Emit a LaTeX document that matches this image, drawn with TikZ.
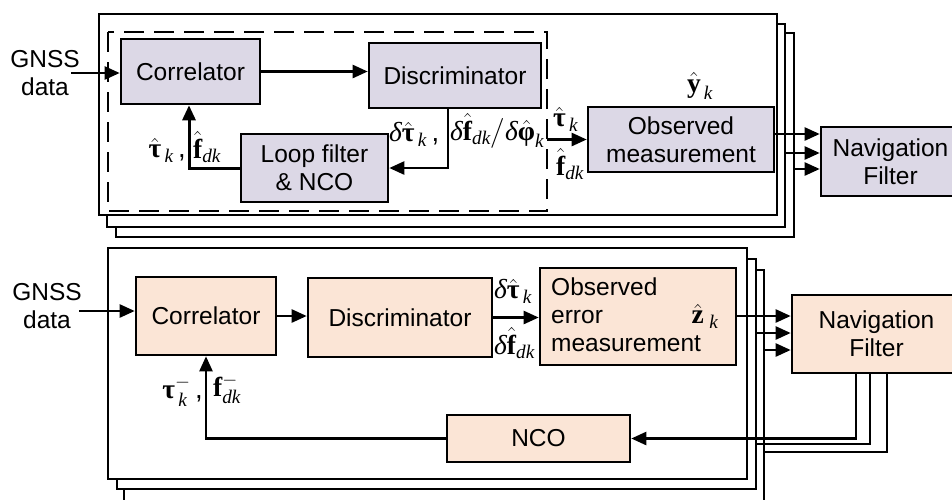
\documentclass[tikz,border=0pt]{standalone}
\usepackage{fix-cm}
\usepackage{amsmath}
\usepackage{fontspec}
\setmainfont{Liberation Sans}
\newfontfamily\tms{Liberation Serif}
\usetikzlibrary{arrows.meta}
\definecolor{lav}{HTML}{DCD8E6}
\definecolor{peach}{HTML}{FBE5D6}
% serif symbols for the signal labels
\newcommand\bv[1]{\text{\tms\bfseries #1}}
\newcommand\iv[1]{\text{\tms\itshape #1}}
\newcommand\hv[1]{\hat{\bv{#1}}}
\tikzset{
  txt/.style={font=\fontsize{24.5}{30}\selectfont, inner sep=0pt},
  lbl/.style={font=\fontsize{27.5}{32}\selectfont, inner sep=0pt},
  pbox/.style={txt, draw, line width=2.6pt, fill=lav, align=center},
  obox/.style={txt, draw, line width=2.6pt, fill=peach, align=center},
  frame/.style={draw, line width=2.2pt, fill=white},
  wire/.style={line width=2.4pt},
  conn/.style={wire, -{Triangle[length=15pt,width=13pt]}},
}
\begin{document}
\begin{tikzpicture}[x=1pt,y=-1pt]
\useasboundingbox (0,0) rectangle (952,499);

% ---------- upper channel: stacked frames ----------
\draw[frame] (116,33) rectangle (794,237);
\draw[frame] (107,24) rectangle (785,227);
\draw[frame] (99,14) rectangle (777,215);
\draw[line width=2.2pt, dash pattern=on 20pt off 10pt] (108,32) rectangle (547,211);

\node[pbox, minimum width=139, minimum height=65] (cor1) at (190.5,71.5) {Correlator};
\node[pbox, minimum width=172, minimum height=65] (dis1) at (455,75.5) {Discriminator};
\node[pbox, minimum width=147, minimum height=68] (loop) at (314.5,168) {Loop filter\\[-2pt]\& NCO};
\node[pbox, minimum width=186, minimum height=65] (obs1) at (681,139.5) {Observed\\[-2pt]measurement};
\node[pbox, minimum width=139, minimum height=69] (nav1) at (890.5,161.5) {Navigation\\[-2pt]Filter};

\node[txt, align=center] (gnss1) at (45,73) {GNSS\\[-2pt]data};
\coordinate (in1) at (71,73);
\draw[conn] (in1) -- (in1 -| cor1.west);
\draw[conn] (cor1.east) -- (cor1.east -| dis1.west);
\draw[conn] ([xshift=-7pt]dis1.south) |- (loop.east);
\draw[wire, line width=3pt, -{Triangle[length=15pt,width=13pt]}] (loop.west) -| ([xshift=-1.5pt]cor1.south);
\coordinate (d1) at (547,139.5);
\draw[conn] (d1) -- (obs1.west);

\coordinate (a1) at (774,134);
\coordinate (a2) at (785,153);
\coordinate (a3) at (794,169);
\draw[conn] (a1) -- (a1 -| nav1.west);
\draw[conn] (a2) -- (a2 -| nav1.west);
\draw[conn] (a3) -- (a3 -| nav1.west);

\node[lbl, anchor=east] (l1) at (186,150) {$\hv{τ}_{\,\iv{k}}$\,,};
\node[lbl, anchor=west] (l2) at (193,147) {$\hv{f}_{\iv{dk}}$};
\node[lbl, anchor=west] (l3) at (389,134) {$\iv{δ}\hv{τ}_{\,\iv{k}}$\,,};
\node[lbl, anchor=west] (l4) at (450,132) {$\iv{δ}\hv{f}_{\iv{dk}}\big/\iv{δ}\hv{φ}_{\iv{k}}$};
\node[lbl, anchor=west] (l5) at (553,119) {$\hv{τ}_{\,\iv{k}}$};
\node[lbl, anchor=west] (l6) at (556,164) {$\hv{f}_{\iv{dk}}$};
\node[lbl] (l7) at (700,86) {$\hv{y}_{\,\iv{k}}$};

% ---------- lower channel: stacked frames ----------
\draw[frame] (124,270) rectangle (764,515);
\draw[frame] (117,259) rectangle (756,489);
\draw[frame] (108,248) rectangle (747,479);

\node[obox, minimum width=140, minimum height=78] (cor2) at (206,316) {Correlator};
\node[obox, minimum width=184, minimum height=79] (dis2) at (400,317.5) {Discriminator};
\node[obox, minimum width=196, minimum height=97] (obs2) at (638,316.5) {};
\node[txt, anchor=west, align=left] (obst) at (551,315) {Observed\\[-2pt]error\\[-2pt]measurement};
\node[obox, minimum width=169, minimum height=78] (nav2) at (876.5,334) {Navigation\\[-2pt]Filter};
\node[obox, minimum width=183, minimum height=47] (nco) at (538.5,438.5) {NCO};

\node[txt, align=center] (gnss2) at (47,306) {GNSS\\[-2pt]data};
\coordinate (in2) at (79,311);
\draw[conn] (in2) -- (in2 -| cor2.west);
\draw[conn] (cor2.east) -- (cor2.east -| dis2.west);
\draw[conn] (dis2.east) -- (dis2.east -| obs2.west);

\coordinate (b1) at (736,316);
\coordinate (b2) at (756,333);
\coordinate (b3) at (764,350);
\draw[conn] (b1) -- (b1 -| nav2.west);
\draw[conn] (b2) -- (b2 -| nav2.west);
\draw[conn] (b3) -- (b3 -| nav2.west);

\coordinate (c2) at (756,444);
\coordinate (c3) at (764,452);
\draw[conn] ([xshift=-20.5pt]nav2.south) |- (nco.east);
\draw[wire] ([xshift=-6.5pt]nav2.south) |- (c2);
\draw[wire] ([xshift=10.5pt]nav2.south) |- (c3);
\draw[conn] (nco.west) -| (cor2.south);

\node[lbl, anchor=west] (m1) at (494,291) {$\iv{δ}\hv{τ}_{\,\iv{k}}$};
\node[lbl, anchor=west] (m2) at (494,343) {$\iv{δ}\hv{f}_{\iv{dk}}$};
\node[lbl] (m3) at (705,316) {$\hv{z}_{\;\iv{k}}$};
\node[lbl, anchor=east] (m4) at (203,391) {$\bv{τ}_{\,\iv{k}}^{-}$\,,};
\node[lbl, anchor=west] (m5) at (213,389) {$\bv{f}_{\iv{dk}}^{-}$};
\end{tikzpicture}
\end{document}
